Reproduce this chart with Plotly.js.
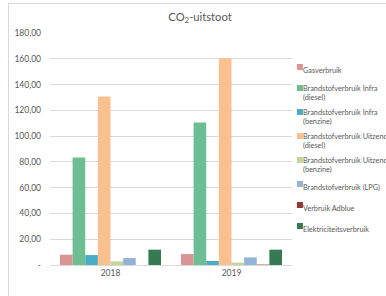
<!DOCTYPE html>
<html>
<head>
<meta charset="utf-8">
<script src="https://cdn.plot.ly/plotly-3.0.1.min.js"></script>
<style>
html,body{margin:0;padding:0;width:386px;height:296px;overflow:hidden;background:#fff;}
#frame{position:absolute;left:8px;top:3px;width:500px;height:400px;border:1px solid #d9d9d9;box-sizing:border-box;}
#chart{position:absolute;left:0;top:0;width:500px;height:296px;}
#chart .legend .legendpoints path{transform:translate(37px,0px) scale(0.5);}
</style>
</head>
<body>
<div id="frame"></div>
<div id="chart"></div>
<script>
const years = ['2018', '2019'];
const seriesNames = [
  'Gasverbruik',
  'Brandstofverbruik Infra<br>(diesel)',
  'Brandstofverbruik Infra<br>(benzine)',
  'Brandstofverbruik Uitzend<br>(diesel)',
  'Brandstofverbruik Uitzend<br>(benzine)',
  'Brandstofverbruik (LPG)',
  'Verbruik Adblue',
  'Elektriciteitsverbruik'
];
const gasverbruik = [8.0, 8.5];
const infraDiesel = [83.4, 110.5];
const infraBenzine = [7.7, 3.1];
const uitzendDiesel = [130.7, 160.4];
const uitzendBenzine = [2.8, 1.8];
const lpg = [5.4, 5.9];
const adblue = [0.0, 0.3];
const elektriciteit = [11.9, 11.9];
const seriesValues = [gasverbruik, infraDiesel, infraBenzine, uitzendDiesel, uitzendBenzine, lpg, adblue, elektriciteit];
const seriesColors = ['#d99594', '#6dbe92', '#4bacc6', '#fac090', '#c3d69b', '#95b3d7', '#953735', '#357a52'];
const tickValues = [0, 20, 40, 60, 80, 100, 120, 140, 160, 180];
const tickLabels = ['-', '20,00', '40,00', '60,00', '80,00', '100,00', '120,00', '140,00', '160,00', '180,00'];

const traces = seriesNames.map((name, i) => ({
  type: 'bar',
  name: name,
  legendgroup: 'g' + i,
  x: years,
  y: seriesValues[i],
  marker: {color: seriesColors[i], line: {width: 0}},
  hoverinfo: 'none'
}));

const layout = {
  width: 500, height: 296,
  margin: {l: 50, r: 208, t: 33, b: 31, pad: 0},
  paper_bgcolor: 'rgba(0,0,0,0)',
  plot_bgcolor: 'rgba(0,0,0,0)',
  font: {family: 'Lato, "Open Sans", sans-serif', color: '#595959', size: 8.5},
  title: {text: 'CO<sub>2</sub>-uitstoot', xref: 'container', x: 0.4, xanchor: 'center',
          yref: 'container', y: 0.942, yanchor: 'middle',
          font: {size: 11.2, color: '#595959', family: 'Lato, "Open Sans", sans-serif'}},
  barmode: 'group',
  bargap: 0.165,
  bargroupgap: 0,
  xaxis: {type: 'category', showgrid: false, showline: true, linecolor: '#d9d9d9', linewidth: 1,
          ticks: '', tickfont: {size: 8.5, color: '#595959'}, fixedrange: true},
  yaxis: {range: [0, 180], tickvals: tickValues, ticktext: tickLabels, showgrid: true,
          gridcolor: '#d9d9d9', gridwidth: 1, zeroline: false, showline: false, ticks: '',
          tickfont: {size: 8.5, color: '#595959'}, ticklabelstandoff: 8, fixedrange: true},
  showlegend: true,
  legend: {x: 0.88, xanchor: 'left', y: 0.902, yanchor: 'top', valign: 'top',
           font: {size: 7.3, color: '#595959'}, itemwidth: 30, bgcolor: 'rgba(0,0,0,0)',
           tracegroupgap: 2, itemclick: false, itemdoubleclick: false}
};

Plotly.newPlot('chart', traces, layout, {displayModeBar: false, staticPlot: true});
</script>
</body>
</html>
